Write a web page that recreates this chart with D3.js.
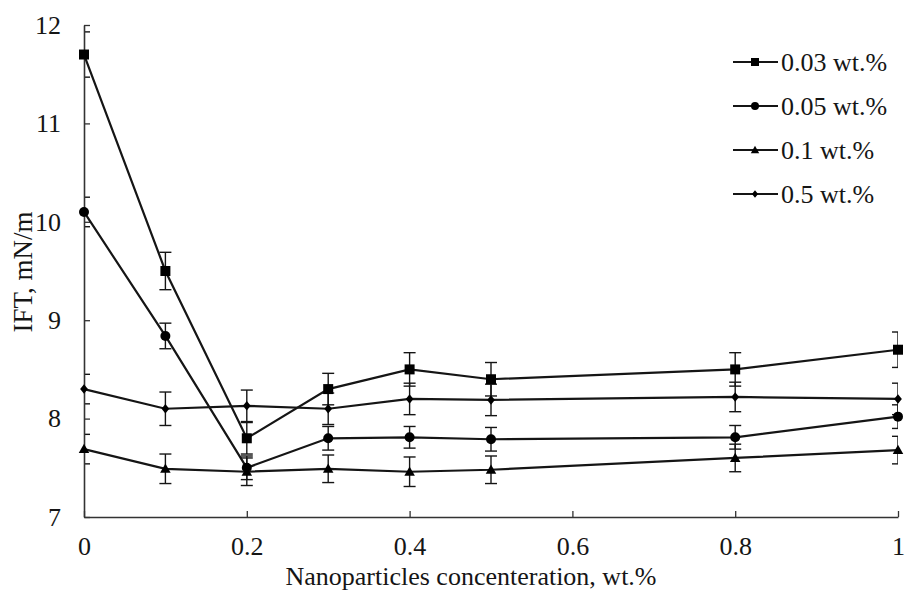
<!DOCTYPE html>
<html>
<head>
<meta charset="utf-8">
<script src="https://cdn.jsdelivr.net/npm/d3@7"></script>
<style>
  body { margin: 0; background: #fff; }
  svg { display: block; font-family: "Liberation Serif", "Times New Roman", serif; }
</style>
</head>
<body>
<svg id="chart"></svg>
<script>
//------------------------------------------------------------
// Data
const concentrations = [0, 0.1, 0.2, 0.3, 0.4, 0.5, 0.8, 1];
const seriesNames = ["0.03 wt.%", "0.05 wt.%", "0.1 wt.%", "0.5 wt.%"];
const seriesShapes = ["square", "circle", "triangle", "diamond"];

const ift003 = [11.7, 9.5, 7.8, 8.3, 8.5, 8.4, 8.5, 8.7];
const err003 = [0.23, 0.19, 0.16, 0.16, 0.17, 0.17, 0.17, 0.18];
const ift005 = [10.1, 8.84, 7.5, 7.8, 7.81, 7.79, 7.81, 8.02];
const err005 = [0.15, 0.13, 0.12, 0.12, 0.11, 0.12, 0.12, 0.12];
const ift01 = [7.69, 7.49, 7.46, 7.49, 7.46, 7.48, 7.6, 7.68];
const err01 = [0.15, 0.15, 0.14, 0.14, 0.15, 0.14, 0.14, 0.14];
const ift05 = [8.3, 8.1, 8.13, 8.1, 8.2, 8.19, 8.22, 8.2];
const err05 = [0.15, 0.17, 0.16, 0.16, 0.16, 0.16, 0.15, 0.16];

const xTicks = [0, 0.2, 0.4, 0.6, 0.8, 1];
const yTicks = [7, 8, 9, 10, 11, 12];

const series = [
  { name: seriesNames[0], shape: seriesShapes[0], values: ift003, errors: err003 },
  { name: seriesNames[1], shape: seriesShapes[1], values: ift005, errors: err005 },
  { name: seriesNames[2], shape: seriesShapes[2], values: ift01, errors: err01 },
  { name: seriesNames[3], shape: seriesShapes[3], values: ift05, errors: err05 }
].map(s => ({
  ...s,
  points: concentrations.map((c, i) => ({ x: c, y: s.values[i], e: s.errors[i] }))
}));

//------------------------------------------------------------
// Chart setup
const W = 905, H = 591;
const margin = { top: 25, right: 7, bottom: 74, left: 84 };
const width = W - margin.left - margin.right;
const height = H - margin.top - margin.bottom;
const ink = "#151515";

const svg = d3.select("#chart").attr("width", W).attr("height", H);
const g = svg.append("g").attr("transform", `translate(${margin.left},${margin.top})`);

const x = d3.scaleLinear().domain([0, 1]).range([0, width]);
const y = d3.scaleLinear().domain([7, 12]).range([height, 0]);

// clip so error caps at the edges are cut like the original
g.append("clipPath").attr("id", "plotClip")
  .append("rect").attr("x", 0).attr("y", -10).attr("width", width).attr("height", height + 20);

//------------------------------------------------------------
// Marker shapes
function marker(shape, r) {
  if (shape === "square") return `M${-r},${-r}H${r}V${r}H${-r}Z`;
  if (shape === "circle") return `M${-r},0A${r},${r} 0 1,0 ${r},0A${r},${r} 0 1,0 ${-r},0Z`;
  if (shape === "triangle") return `M0,${-r * 1.05}L${r * 1.05},${r * 0.8}L${-r * 1.05},${r * 0.8}Z`;
  return `M0,${-r * 1.1}L${r * 0.9},0L0,${r * 1.1}L${-r * 0.9},0Z`;
}
const markerSize = { square: 5, circle: 5, triangle: 5, diamond: 4.3 };

//------------------------------------------------------------
// Error bars
const errG = g.append("g").attr("clip-path", "url(#plotClip)")
  .attr("stroke", ink).attr("stroke-width", 1.4).attr("fill", "none");
series.forEach(s => {
  s.points.forEach(p => {
    const px = x(p.x), top = y(p.y + p.e), bot = y(p.y - p.e);
    errG.append("line").attr("x1", px).attr("x2", px).attr("y1", top).attr("y2", bot);
    errG.append("line").attr("x1", px - 6).attr("x2", px + 6).attr("y1", top).attr("y2", top);
    errG.append("line").attr("x1", px - 6).attr("x2", px + 6).attr("y1", bot).attr("y2", bot);
  });
});

//------------------------------------------------------------
// Axes
const xAxis = g.append("g").attr("transform", `translate(0,${height})`)
  .call(d3.axisBottom(x).tickValues(xTicks).tickFormat(d => String(d))
    .tickSizeInner(-6).tickSizeOuter(0).tickPadding(20));
const yAxis = g.append("g")
  .call(d3.axisLeft(y).tickValues(yTicks).tickFormat(d => String(d))
    .tickSizeInner(-6).tickSizeOuter(0).tickPadding(23));

[xAxis, yAxis].forEach(a => {
  a.select(".domain").attr("stroke", "#333").attr("stroke-width", 1.6);
  a.selectAll(".tick line").attr("stroke", "#333").attr("stroke-width", 1.3);
  a.selectAll(".tick text").attr("fill", ink)
    .style("font-size", "26px").style("font-family", "Liberation Serif, serif");
});

//------------------------------------------------------------
// Lines + markers
const line = d3.line().x(d => x(d.x)).y(d => y(d.y));
series.forEach(s => {
  g.append("path").datum(s.points)
    .attr("d", line)
    .attr("fill", "none").attr("stroke", ink).attr("stroke-width", 2.2);
  g.append("g").selectAll("path")
    .data(s.points)
    .join("path")
    .attr("transform", d => `translate(${x(d.x)},${y(d.y)})`)
    .attr("d", marker(s.shape, markerSize[s.shape]))
    .attr("fill", "#000");
});

//------------------------------------------------------------
// Axis titles
svg.append("text")
  .attr("x", 471).attr("y", 585)
  .attr("text-anchor", "middle")
  .attr("fill", ink)
  .style("font-size", "26px")
  .text("Nanoparticles concenteration, wt.%");

svg.append("text")
  .attr("transform", "translate(32,272) rotate(-90)")
  .attr("text-anchor", "middle")
  .attr("fill", ink)
  .style("font-size", "27px")
  .text("IFT, mN/m");

//------------------------------------------------------------
// Legend
const legend = svg.append("g");
series.forEach((s, i) => {
  const cy = 62 + i * 44;
  legend.append("line")
    .attr("x1", 733).attr("x2", 778).attr("y1", cy).attr("y2", cy)
    .attr("stroke", ink).attr("stroke-width", 2);
  legend.append("path")
    .attr("transform", `translate(755,${cy})`)
    .attr("d", marker(s.shape, markerSize[s.shape] * 0.8))
    .attr("fill", "#000");
  legend.append("text")
    .attr("x", 781).attr("y", cy + 9)
    .attr("fill", ink)
    .style("font-size", "26px")
    .text(s.name);
});
</script>
</body>
</html>
